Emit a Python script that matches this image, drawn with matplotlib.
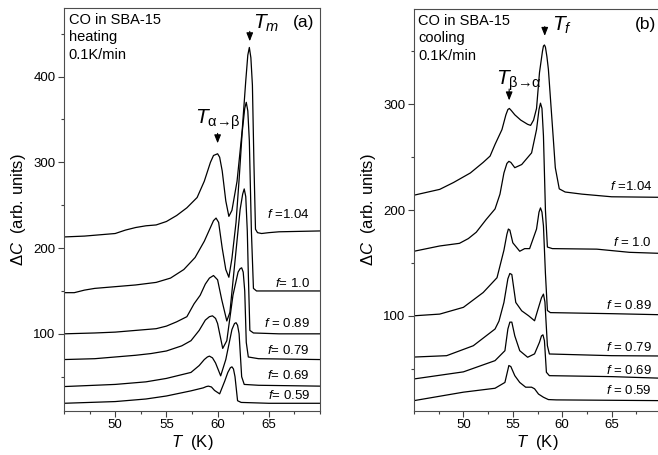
import matplotlib
matplotlib.use('Agg')
import matplotlib.pyplot as plt
from matplotlib.ticker import MultipleLocator

plt.rcParams['font.family'] = ['Liberation Sans', 'DejaVu Sans']
plt.rcParams['mathtext.fontset'] = 'custom'
plt.rcParams['mathtext.rm'] = 'Liberation Sans'
plt.rcParams['mathtext.it'] = 'Liberation Sans:italic'

# heating curves (panel a), temperature in K, Delta C in arb. units
h104_T = [45, 47, 49, 50, 51, 52, 53, 54, 55, 56, 57, 58, 58.7, 59.3, 59.6, 60, 60.2, 60.45, 60.8, 61.1,
          61.4, 61.9, 62.4, 62.75, 62.95, 63.1, 63.25, 63.4, 63.55, 63.7, 63.9, 64.3, 65, 66, 70]
h104_C = [213, 214, 216, 217, 221, 224, 226, 227, 231, 238, 247, 259, 278, 300, 308, 310, 306, 290, 255, 237,
          244, 278, 337, 395, 425, 434, 422, 390, 298, 222, 218, 217, 218, 219, 220]
h100_T = [45, 46, 47, 48, 50, 52, 54, 55.4, 56.7, 57.8, 58.7, 59.3, 59.6, 59.85, 60.1, 60.45, 60.8, 61.1,
          61.4, 61.8, 62.1, 62.4, 62.65, 62.8, 62.95, 63.1, 63.3, 63.5, 63.8, 65, 70]
h100_C = [148, 148, 151, 153, 155, 157, 160, 165, 175, 189, 208, 224, 232, 235, 230, 200, 175, 166,
          188, 230, 280, 335, 363, 370, 360, 325, 220, 153, 150, 150, 150]
h089_T = [45, 48, 50, 52, 54, 55, 56, 57, 57.7, 58.3, 58.8, 59.2, 59.6, 60.0, 60.4, 60.9, 61.2, 61.7,
          62.2, 62.45, 62.6, 62.75, 62.9, 63.0, 63.15, 63.5, 66, 70]
h089_C = [100, 101, 102, 104, 106, 109, 114, 120, 135, 145, 158, 165, 168, 163, 140, 115, 125, 185,
          245, 263, 269, 260, 220, 170, 104, 101, 100, 100]
h079_T = [45, 48, 50, 52, 53.5, 55, 56.5, 57.4, 58.2, 58.8, 59.2, 59.5, 59.8, 60.0, 60.5, 60.9, 61.5,
          62.0, 62.2, 62.35, 62.5, 62.65, 62.8, 63.0, 64, 70]
h079_C = [70, 71, 73, 75, 77, 80, 86, 92, 104, 116, 120, 121, 118, 112, 83, 92, 145,
          172, 176, 177, 172, 150, 90, 73, 71, 70]
h069_T = [45, 50, 53, 55, 57.4, 58.2, 58.7, 59.0, 59.2, 59.5, 59.8, 60.3, 60.8, 61.4, 61.65, 61.8, 61.95,
          62.1, 62.35, 62.6, 64, 70]
h069_C = [38.5, 41, 44, 48, 55, 63, 70, 73, 74, 72, 66, 51, 70, 105, 112, 113, 110,
          100, 50, 41, 40, 39]
h059_T = [45, 50, 53, 55, 57.4, 58.6, 58.9, 59.1, 59.4, 59.7, 60.2, 60.7, 61.0, 61.25, 61.4, 61.55, 61.7,
          61.95, 62.3, 65, 70]
h059_C = [19, 21, 24, 27.5, 33.5, 37, 38.5, 39, 38, 34, 30, 45, 55, 60.5, 61.5, 59, 50,
          22, 20, 19, 19]

# cooling curves (panel b)
c104_T = [45, 47.6, 49, 50.7, 52, 52.7, 53.2, 53.9, 54.3, 54.5, 54.65, 54.85, 55.2, 55.8, 56.5, 56.8,
          57.1, 57.4, 57.7, 58.0, 58.1, 58.2, 58.3, 58.45, 58.6, 59.1, 59.3, 59.7, 60.3, 62, 65, 70]
c104_C = [214, 219.5, 226, 235, 245, 251, 262, 276, 290, 295, 296, 294, 290, 285, 281, 280,
          285, 296, 330, 350, 355, 356, 354, 345, 333, 267, 240, 220, 217, 215, 212.5, 212]
c100_T = [45, 47.6, 49.6, 50.5, 51.3, 52.3, 53.2, 53.7, 54.1, 54.4, 54.6, 54.8, 55.2, 55.9, 56.9, 57.4,
          57.65, 57.8, 57.95, 58.1, 58.3, 58.5, 59, 63.5, 66.8, 70]
c100_C = [161, 166, 168.5, 173, 179, 191, 201, 215, 235, 244, 246, 245, 240, 243, 254, 276,
          295, 301, 296, 270, 200, 165, 163.5, 163, 160, 159]
c089_T = [45, 47.6, 50, 52, 53.4, 54.1, 54.4, 54.55, 54.7, 55.0, 55.7, 56.2, 56.7, 57.4, 57.65, 57.8,
          57.95, 58.1, 58.3, 58.5, 58.8, 65, 70]
c089_C = [100, 101.6, 108, 122, 136, 162, 177, 182, 181, 169, 161, 163.5, 163.5, 182, 198, 202,
          198, 185, 140, 105, 103, 102, 101]
c079_T = [45, 48.3, 51, 53.2, 53.6, 54.1, 54.5, 54.7, 54.9, 55.3, 55.9, 56.6, 57.2, 57.5, 57.9, 58.1,
          58.25, 58.5, 58.7, 65, 70]
c079_C = [61, 62.3, 71.7, 87.5, 95, 112.6, 135, 140, 139, 112.6, 104.7, 100, 95.3, 104.7, 117, 120.5,
          113, 71.7, 63.9, 62.3, 62]
c069_T = [45, 50, 53.2, 54.2, 54.5, 54.7, 54.9, 55.2, 55.7, 56.5, 57.2, 57.7, 57.9, 58.05, 58.2, 58.4,
          58.7, 65, 70]
c069_C = [40.3, 47, 57.6, 67, 87.5, 94, 94, 81, 67, 60.8, 64, 75, 81, 82, 76.4, 46.6,
          43.4, 42.5, 41]
c059_T = [45, 50, 53.2, 54.2, 54.45, 54.6, 54.8, 55.2, 55.7, 56.3, 56.9, 57.2, 57.6, 58.1, 58.6, 59.4, 70]
c059_C = [19.8, 27.8, 31.5, 37, 47, 53, 52, 43.4, 37, 32.5, 32.5, 31, 26, 23, 20.8, 20.5, 19.8]

heat_curves = [(h104_T, h104_C), (h100_T, h100_C), (h089_T, h089_C),
               (h079_T, h079_C), (h069_T, h069_C), (h059_T, h059_C)]
cool_curves = [(c104_T, c104_C), (c100_T, c100_C), (c089_T, c089_C),
               (c079_T, c079_C), (c069_T, c069_C), (c059_T, c059_C)]

heat_labels = ['$f$ =1.04', '$f$= 1.0', '$f$ = 0.89', '$f$= 0.79', '$f$= 0.69', '$f$= 0.59']
heat_label_y = [239, 159, 112, 80, 51, 28]
cool_labels = ['$f$ =1.04', '$f$ = 1.0', '$f$ = 0.89', '$f$ = 0.79', '$f$ = 0.69', '$f$ = 0.59']
cool_label_y = [222, 169, 110, 70, 48, 29]


def style(ax, ymax, majors):
    ax.set_xlim(45, 70)
    ax.set_ylim(10, ymax)
    ax.set_xticks([50, 55, 60, 65])
    ax.xaxis.set_minor_locator(MultipleLocator(2.5))
    ax.set_yticks(majors)
    ax.yaxis.set_minor_locator(MultipleLocator(50))
    ax.tick_params(which='both', direction='out', labelsize=9.5, width=0.8, color='0.25', pad=2)
    ax.tick_params(which='major', length=4)
    ax.tick_params(which='minor', length=2.5)
    for s in ax.spines.values():
        s.set_linewidth(0.8)
        s.set_color('0.3')
    ax.set_xlabel('$T$  (K)', fontsize=12, labelpad=1)
    ax.set_ylabel(r'$\Delta C$  (arb. units)', fontsize=12, labelpad=4)


fig = plt.figure(figsize=(6.58, 4.55), dpi=100)
ax1 = fig.add_axes([0.0973, 0.0967, 0.389, 0.8857])
ax2 = fig.add_axes([0.6292, 0.0967, 0.3754, 0.8835])

for T, C in heat_curves:
    ax1.plot(T, C, color='k', lw=0.9, solid_joinstyle='round')
for T, C in cool_curves:
    ax2.plot(T, C, color='k', lw=0.9, solid_joinstyle='round')

style(ax1, 480, [100, 200, 300, 400])
style(ax2, 390, [100, 200, 300])

for lab, y in zip(heat_labels, heat_label_y):
    ax1.text(69.0, y, lab, fontsize=9.5, ha='right', va='center')
for lab, y in zip(cool_labels, cool_label_y):
    ax2.text(69.1, y, lab, fontsize=9.5, ha='right', va='center')

for ax, mode in [(ax1, 'heating'), (ax2, 'cooling')]:
    ax.text(0.018, 0.970, 'CO in SBA-15', transform=ax.transAxes, fontsize=10.5, va='center')
    ax.text(0.018, 0.928, mode, transform=ax.transAxes, fontsize=10.5, va='center')
    ax.text(0.018, 0.884, '0.1K/min', transform=ax.transAxes, fontsize=10.5, va='center')
ax1.text(0.895, 0.965, '(a)', transform=ax1.transAxes, fontsize=12.5, va='center')
ax2.text(0.895, 0.962, '(b)', transform=ax2.transAxes, fontsize=12.5, va='center')

arrow = dict(arrowstyle='-|>,head_length=0.5,head_width=0.2', color='k', lw=0.8)
ax1.annotate('', xy=(63.14, 438), xytext=(63.14, 456), arrowprops=arrow)
ax1.text(63.5, 462, '$T_m$', fontsize=15, ha='left', va='center')
ax1.annotate('', xy=(60.0, 319), xytext=(60.0, 337), arrowprops=arrow)
ax1.text(57.8, 350, r'$T_{\mathrm{\alpha}→\mathrm{\beta}}$', fontsize=15, ha='left', va='center')

ax2.annotate('', xy=(58.23, 362), xytext=(58.23, 376), arrowprops=arrow)
ax2.text(59.0, 375, '$T_f$', fontsize=15, ha='left', va='center')
ax2.annotate('', xy=(54.63, 301), xytext=(54.63, 317), arrowprops=arrow)
ax2.text(53.3, 322, r'$T_{\mathrm{\beta}→\mathrm{\alpha}}$', fontsize=15, ha='left', va='center')

fig.savefig('out.png', dpi=100)
